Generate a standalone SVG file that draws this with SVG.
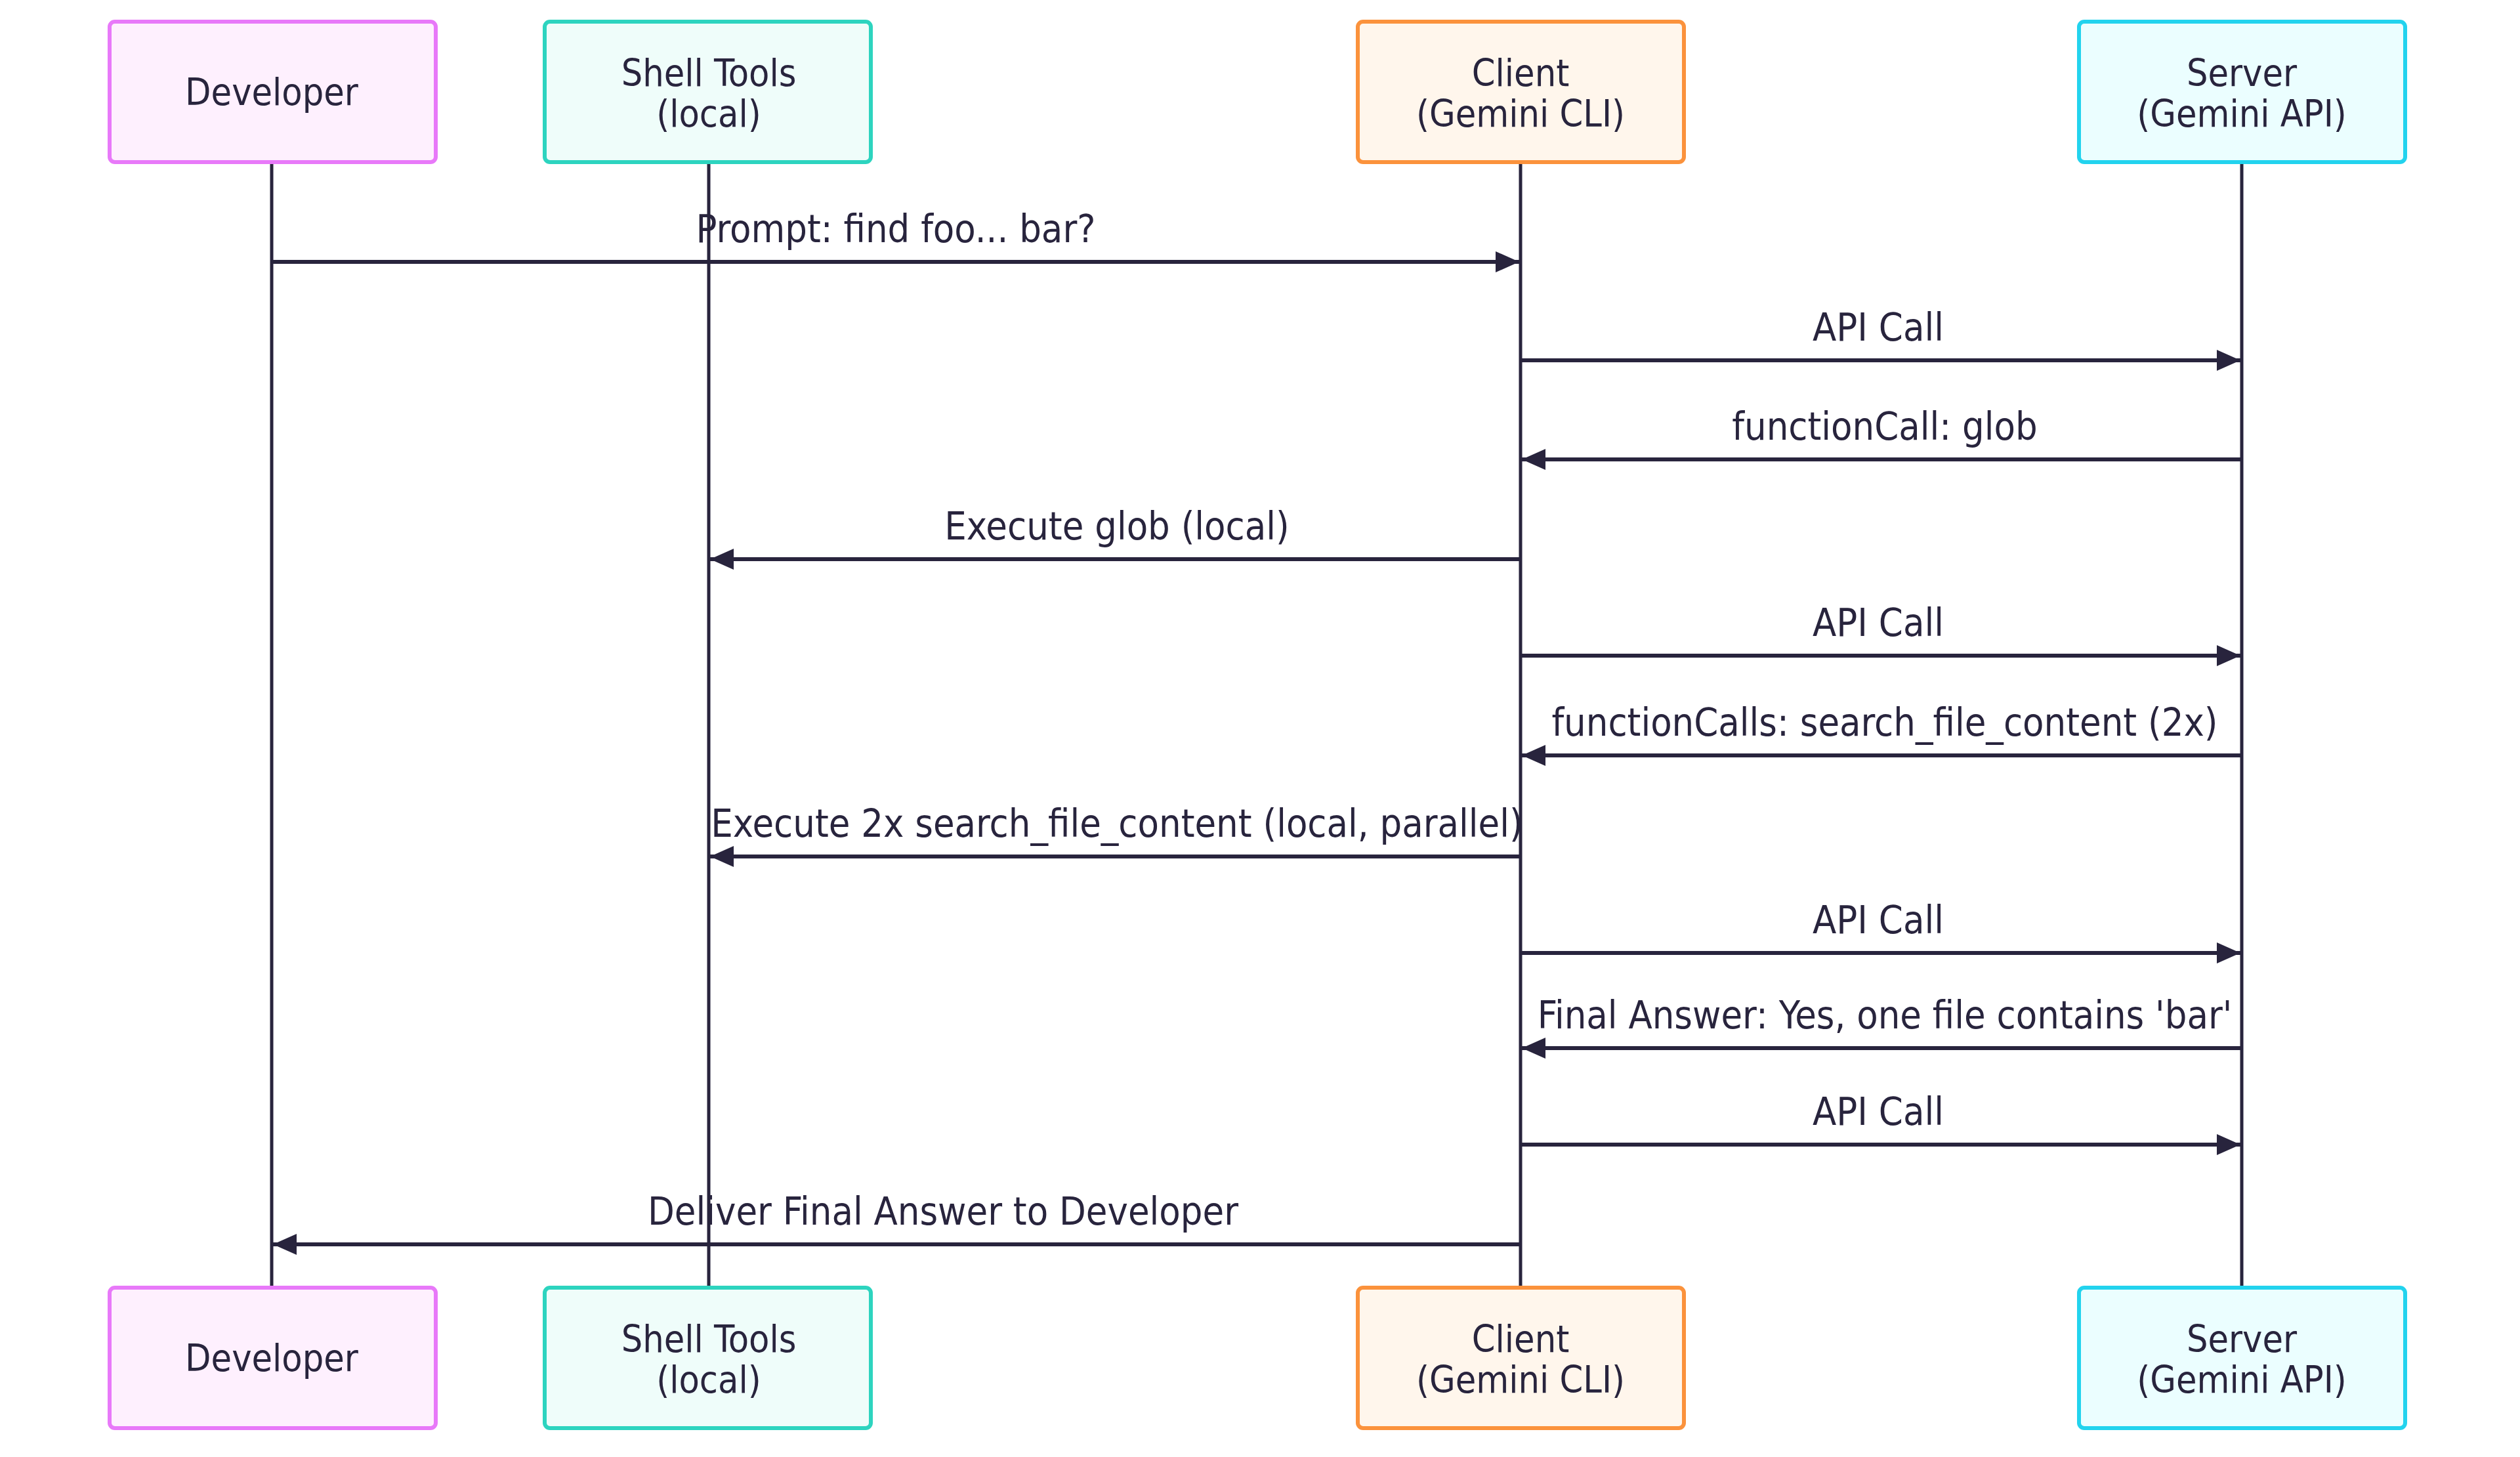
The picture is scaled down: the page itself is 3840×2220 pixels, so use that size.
<svg xmlns="http://www.w3.org/2000/svg" width="3840" height="2220" viewBox="0 0 3840 2220">
<style>
text{font-family:"DejaVu Sans Condensed","DejaVu Sans","Noto Sans",sans-serif;font-stretch:condensed;font-size:59px;fill:#28243d;text-anchor:middle}
text.n{font-size:57px}
.life{stroke:#28243d;stroke-width:5}
.msg{stroke:#28243d;stroke-width:6;fill:none}
.box{stroke-width:6}
</style>
<defs>
<marker id="a" viewBox="0 0 36 32" refX="36" refY="16" markerWidth="36" markerHeight="32" markerUnits="userSpaceOnUse" orient="auto">
<path d="M0,0 L36,16 L0,32 z" fill="#28243d"/>
</marker>
</defs>
<g id="lifelines">
<line class="life" x1="414" y1="247" x2="414" y2="1962"/>
<line class="life" x1="1080" y1="247" x2="1080" y2="1962"/>
<line class="life" x1="2317" y1="247" x2="2317" y2="1962"/>
<line class="life" x1="3416" y1="247" x2="3416" y2="1962"/>
</g>
<g id="dev-top"><rect class="box" x="167" y="33" width="497" height="214" rx="8" fill="#fef0fe" stroke="#e879f9"/><text class="n" x="414" y="160">Developer</text></g>
<g id="shell-top"><rect class="box" x="830" y="33" width="497" height="214" rx="8" fill="#effdfa" stroke="#2dd4bf"/><text class="n" x="1080" y="131">Shell Tools</text><text class="n" x="1080" y="193">(local)</text></g>
<g id="client-top"><rect class="box" x="2069" y="33" width="497" height="214" rx="8" fill="#fff6ec" stroke="#fb923c"/><text class="n" x="2317" y="131">Client</text><text class="n" x="2317" y="193">(Gemini CLI)</text></g>
<g id="server-top"><rect class="box" x="3168" y="33" width="497" height="214" rx="8" fill="#ebfeff" stroke="#22d3ee"/><text class="n" x="3416" y="131">Server</text><text class="n" x="3416" y="193">(Gemini API)</text></g>
<g id="dev-bottom"><rect class="box" x="167" y="1962" width="497" height="214" rx="8" fill="#fef0fe" stroke="#e879f9"/><text class="n" x="414" y="2089">Developer</text></g>
<g id="shell-bottom"><rect class="box" x="830" y="1962" width="497" height="214" rx="8" fill="#effdfa" stroke="#2dd4bf"/><text class="n" x="1080" y="2060">Shell Tools</text><text class="n" x="1080" y="2122">(local)</text></g>
<g id="client-bottom"><rect class="box" x="2069" y="1962" width="497" height="214" rx="8" fill="#fff6ec" stroke="#fb923c"/><text class="n" x="2317" y="2060">Client</text><text class="n" x="2317" y="2122">(Gemini CLI)</text></g>
<g id="server-bottom"><rect class="box" x="3168" y="1962" width="497" height="214" rx="8" fill="#ebfeff" stroke="#22d3ee"/><text class="n" x="3416" y="2060">Server</text><text class="n" x="3416" y="2122">(Gemini API)</text></g>
<g id="messages">
<line class="msg" x1="414" y1="399" x2="2315" y2="399" marker-end="url(#a)"/><text x="1365" y="369">Prompt: find foo... bar?</text>
<line class="msg" x1="2317" y1="549" x2="3414" y2="549" marker-end="url(#a)"/><text x="2862" y="519">API Call</text>
<line class="msg" x1="3416" y1="700" x2="2319" y2="700" marker-end="url(#a)"/><text x="2872" y="670">functionCall: glob</text>
<line class="msg" x1="2317" y1="852" x2="1082" y2="852" marker-end="url(#a)"/><text x="1702" y="822">Execute glob (local)</text>
<line class="msg" x1="2317" y1="999" x2="3414" y2="999" marker-end="url(#a)"/><text x="2862" y="969">API Call</text>
<line class="msg" x1="3416" y1="1151" x2="2319" y2="1151" marker-end="url(#a)"/><text x="2872" y="1121">functionCalls: search_file_content (2x)</text>
<line class="msg" x1="2317" y1="1305" x2="1082" y2="1305" marker-end="url(#a)"/><text x="1702" y="1275">Execute 2x search_file_content (local, parallel)</text>
<line class="msg" x1="2317" y1="1452" x2="3414" y2="1452" marker-end="url(#a)"/><text x="2862" y="1422">API Call</text>
<line class="msg" x1="3416" y1="1597" x2="2319" y2="1597" marker-end="url(#a)"/><text x="2872" y="1567">Final Answer: Yes, one file contains 'bar'</text>
<line class="msg" x1="2317" y1="1744" x2="3414" y2="1744" marker-end="url(#a)"/><text x="2862" y="1714">API Call</text>
<line class="msg" x1="2317" y1="1896" x2="416" y2="1896" marker-end="url(#a)"/><text x="1437" y="1866">Deliver Final Answer to Developer</text>
</g>
</svg>
